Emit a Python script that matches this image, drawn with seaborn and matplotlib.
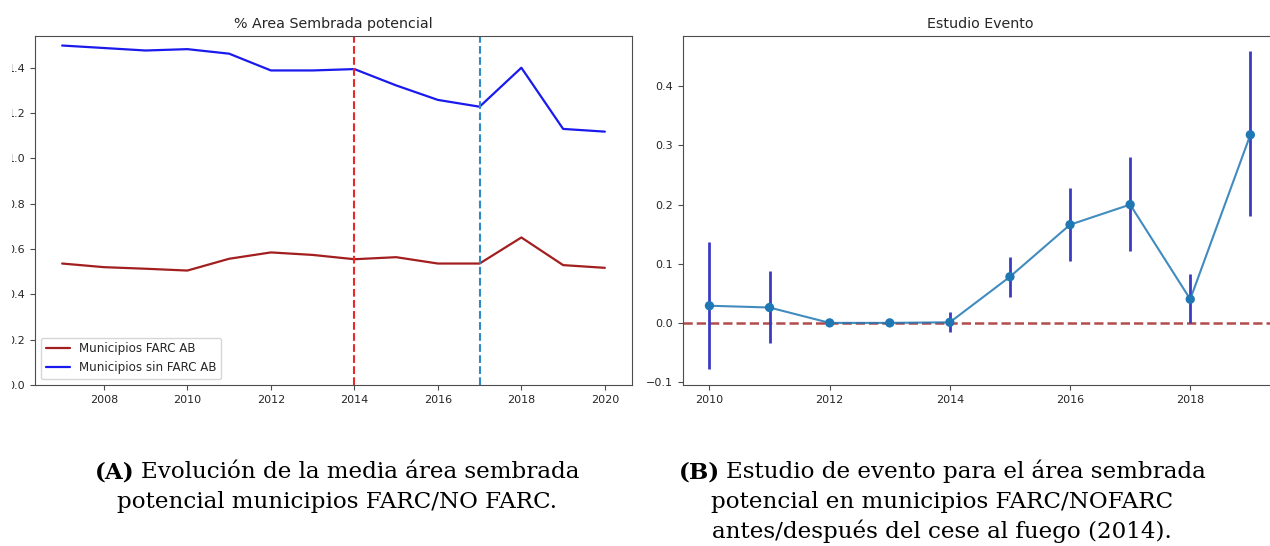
import matplotlib
matplotlib.use('Agg')
import matplotlib.pyplot as plt
import seaborn as sns
import pandas as pd
from matplotlib.transforms import Bbox, TransformedBbox

# Datos
anios = list(range(2007, 2021))
farc_ab = [0.536, 0.520, 0.513, 0.505, 0.557, 0.585, 0.574, 0.555, 0.564, 0.536, 0.536, 0.651, 0.529, 0.517]
sin_farc_ab = [1.498, 1.487, 1.476, 1.482, 1.462, 1.388, 1.388, 1.394, 1.322, 1.258, 1.228, 1.400, 1.130, 1.118]

anios_evento = list(range(2010, 2020))
coef = [0.029, 0.026, 0.000, 0.000, 0.001, 0.078, 0.166, 0.200, 0.040, 0.318]
ic_inf = [-0.078, -0.034, 0.000, 0.000, -0.016, 0.043, 0.104, 0.121, 0.000, 0.180]
ic_sup = [0.136, 0.087, 0.000, 0.000, 0.018, 0.112, 0.228, 0.281, 0.082, 0.460]

x_ticks_a = [2008, 2010, 2012, 2014, 2016, 2018, 2020]
y_ticks_a = [0.0, 0.2, 0.4, 0.6, 0.8, 1.0, 1.2, 1.4]
x_ticks_b = [2010, 2012, 2014, 2016, 2018]
y_ticks_b = [-0.1, 0.0, 0.1, 0.2, 0.3, 0.4]

pie_a = [('(A)', 'Evolución de la media área sembrada'),
         'potencial municipios FARC/NO FARC.']
pie_b = [('(B)', 'Estudio de evento para el área sembrada'),
         'potencial en municipios FARC/NOFARC',
         'antes/después del cese al fuego (2014).']

sns.set_style('ticks')
plt.rcParams['font.family'] = 'DejaVu Sans'
plt.rcParams['axes.edgecolor'] = '0.3'
plt.rcParams['xtick.color'] = '0.3'
plt.rcParams['ytick.color'] = '0.3'
plt.rcParams['xtick.labelcolor'] = '0.15'
plt.rcParams['ytick.labelcolor'] = '0.15'
plt.rcParams['xtick.labelsize'] = 8
plt.rcParams['ytick.labelsize'] = 8

W, H = 1270, 546
fig = plt.figure(figsize=(W / 100, H / 100), dpi=100)

ax1 = fig.add_axes([35 / W, 161 / H, 597 / W, 349 / H])
# el panel B queda cortado por el borde derecho de la imagen
ax2 = fig.add_axes([683 / W, 161 / H, 620 / W, 349 / H])

# Panel A
df_a = pd.DataFrame({'anio': anios, 'farc': farc_ab, 'sin': sin_farc_ab})
sns.lineplot(data=df_a, x='anio', y='farc', color='#a31f1f', lw=1.6,
             label='Municipios FARC AB', ax=ax1)
sns.lineplot(data=df_a, x='anio', y='sin', color='#1a1aee', lw=1.6,
             label='Municipios sin FARC AB', ax=ax1)
ax1.axvline(2014, color='#e8282a', ls='--', lw=1.5)
ax1.axvline(2017, color='#2f8ac8', ls='--', lw=1.5)
ax1.set_ylim(0, 1.54)
ax1.set_xticks(x_ticks_a)
ax1.set_yticks(y_ticks_a)
ax1.set_yticklabels([f'{v:.1f}' for v in y_ticks_a])
ax1.set_xlabel('')
ax1.set_ylabel('')
ax1.set_title('% Area Sembrada potencial', fontsize=10.3, color='0.15')
ax1.legend(loc='lower left', fontsize=8.6, frameon=True, edgecolor='0.8')

# las etiquetas del eje y quedan recortadas por el borde de la imagen
recorte = TransformedBbox(Bbox.from_extents(12 / W, 0, 1, 1), fig.transFigure)
for lab in ax1.get_yticklabels():
    lab.set_clip_on(True)
    lab.set_clip_box(recorte)

# Panel B
df_b = pd.DataFrame({'anio': anios_evento, 'coef': coef, 'inf': ic_inf, 'sup': ic_sup})
ax2.vlines(df_b['anio'], df_b['inf'], df_b['sup'], color='#3b3bc4', lw=2, zorder=2)
sns.lineplot(data=df_b, x='anio', y='coef', color='#1f77b4', lw=1.5, alpha=0.85,
             ax=ax2, zorder=3)
sns.scatterplot(data=df_b, x='anio', y='coef', color='#1f77b4', s=45,
                edgecolor='none', ax=ax2, zorder=4)
ax2.axhline(0, color='#b24c4c', ls='--', lw=1.8, zorder=1)
ax2.set_xlim(2009.56, 2009.56 + 620 / 60.1)
ax2.set_ylim(-0.105, 0.485)
ax2.set_xticks(x_ticks_b)
ax2.set_yticks(y_ticks_b)
ax2.set_yticklabels(['\u22120.1', '0.0', '0.1', '0.2', '0.3', '0.4'])
ax2.set_xlabel('')
ax2.set_ylabel('')
ax2.set_title('Estudio Evento', fontsize=10.3, color='0.15')
ax2.title.set_position((297 / 620, 1.0))

# Pies de figura
renderer = fig.canvas.get_renderer()
kw = dict(family='DejaVu Serif', fontsize=16.6, va='baseline', color='black')


def pie_de_figura(xc, lineas, y0, dy=30):
    for i, linea in enumerate(lineas):
        y = (H - (y0 + i * dy)) / H
        if isinstance(linea, tuple):
            etiqueta, resto = linea
            tb = fig.text(0, y, etiqueta, fontweight='bold', **kw)
            tr = fig.text(0, y, resto, **kw)
            wb = tb.get_window_extent(renderer).width
            wr = tr.get_window_extent(renderer).width
            gap = 6
            x0 = xc - (wb + gap + wr) / 2
            tb.set_x(x0 / W)
            tr.set_x((x0 + wb + gap) / W)
        else:
            fig.text(xc / W, y, linea, ha='center', **kw)


pie_de_figura(337, pie_a, 478)
pie_de_figura(942, pie_b, 478)

fig.savefig('out.png', dpi=100)
